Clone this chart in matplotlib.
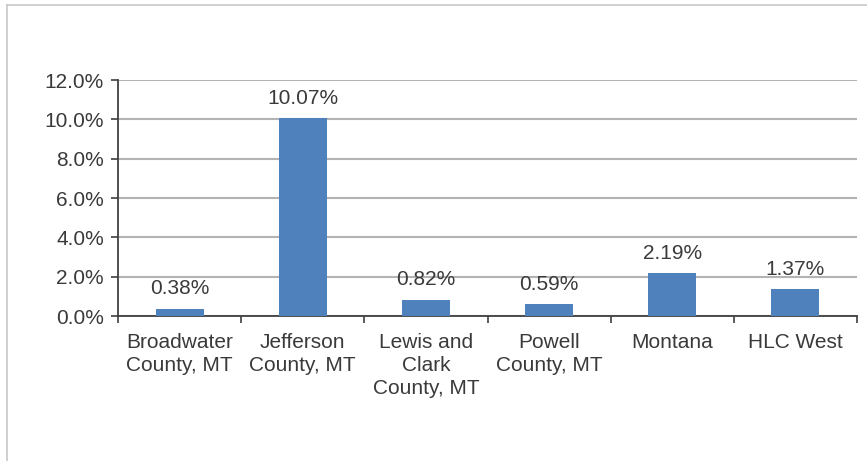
import matplotlib
matplotlib.use("Agg")
import matplotlib.pyplot as plt
from matplotlib.lines import Line2D
from matplotlib.ticker import FuncFormatter, FixedLocator

plt.rcParams['font.family'] = ['Liberation Sans', 'DejaVu Sans']

categories = ["Broadwater\nCounty, MT", "Jefferson\nCounty, MT", "Lewis and\nClark\nCounty, MT",
              "Powell\nCounty, MT", "Montana", "HLC West"]
values = [0.38, 10.07, 0.82, 0.59, 2.19, 1.37]
value_labels = ["0.38%", "10.07%", "0.82%", "0.59%", "2.19%", "1.37%"]
y_ticks = [0, 2, 4, 6, 8, 10, 12]

W, H = 867, 461
fig = plt.figure(figsize=(W / 100, H / 100), dpi=100)
ax = fig.add_axes([118 / W, 1 - 316 / H, (857 - 118) / W, (316 - 80) / H])

text_color = "#3A3A3A"
bar_color = "#4F81BD"
grid_color = "#B3B3B3"
axis_color = "#404040"
fs = 15

x = list(range(len(categories)))
bars = ax.bar(x, values, width=0.39, color=bar_color, zorder=3)

for xi, v, lab in zip(x, values, value_labels):
    ax.annotate(lab, (xi, v), xytext=(0, 7.5), textcoords="offset points",
                ha="center", va="bottom", fontsize=fs, color=text_color)

ax.set_xlim(-0.5, len(categories) - 0.5)
ax.set_ylim(0, 12)
ax.set_yticks(y_ticks)
ax.yaxis.set_major_formatter(FuncFormatter(lambda v, p: f"{v:.1f}%"))
ax.grid(axis="y", color=grid_color, linewidth=1.5, zorder=0)
ax.set_axisbelow(True)

ax.set_xticks(x)
ax.set_xticklabels(categories, fontsize=fs, color=text_color, linespacing=1.24)
ax.xaxis.set_minor_locator(FixedLocator([i - 0.5 for i in range(len(categories) + 1)]))
ax.tick_params(axis="x", which="major", length=0, pad=12.5)
ax.tick_params(axis="x", which="minor", length=5, width=1.2, color=axis_color, direction="out")
ax.tick_params(axis="y", which="major", length=5, width=1.2, color=axis_color,
               labelsize=fs, labelcolor=text_color, pad=5)

for side in ("top", "right"):
    ax.spines[side].set_visible(False)
for side in ("left", "bottom"):
    ax.spines[side].set_color(axis_color)
    ax.spines[side].set_linewidth(1.3)

# outer frame lines of the chart area
fig.add_artist(Line2D([7 / W, 7 / W], [0, 1 - 5 / H], transform=fig.transFigure,
                      color="#C8C8C8", linewidth=1.2))
fig.add_artist(Line2D([7 / W, 1], [1 - 5 / H, 1 - 5 / H], transform=fig.transFigure,
                      color="#C8C8C8", linewidth=1.2))

fig.savefig("out.png", dpi=100)
